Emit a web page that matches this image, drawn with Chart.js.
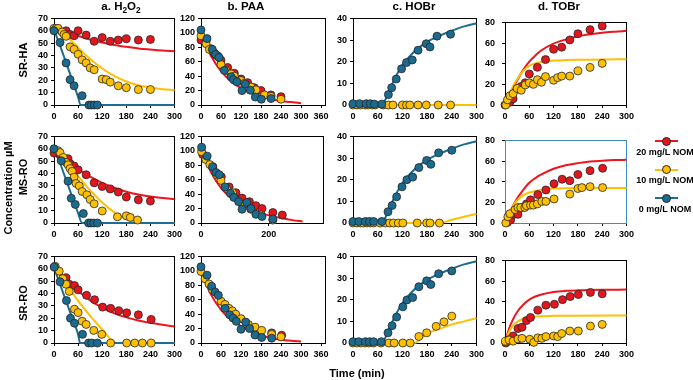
<!DOCTYPE html>
<html><head><meta charset="utf-8">
<script src="https://cdn.jsdelivr.net/npm/chart.js@4.4.1/dist/chart.umd.min.js"></script>
<style>
html,body{margin:0;padding:0;background:#fff}
body{width:693px;height:380px;position:relative;overflow:hidden;font-family:"Liberation Sans",Arial,sans-serif;font-weight:bold;color:#000}
canvas{position:absolute}
.lbl{position:absolute;white-space:nowrap;font-weight:bold;line-height:1}
.rot{transform:translate(-50%,-50%) rotate(-90deg)}
.ctr{transform:translate(-50%,-50%)}
sub{font-size:0.72em;vertical-align:-0.28em;line-height:0}
</style></head><body>
<script>
// ---------- tick labels ----------
const X300=[0,60,120,180,240,300], X360=[0,60,120,180,240,300,360], X200=[0,200];
const Y70=[0,10,20,30,40,50,60,70], Y120=[0,20,40,60,80,100,120], Y40=[0,10,20,30,40], Y80=[0,20,40,60,80];
const panelTitles=['a. H<sub>2</sub>O<sub>2</sub>','b. PAA','c. HOBr','d. TOBr'];
const rowLabels=['SR-HA','MS-RO','SR-RO'];
const yTitle='Concentration µM', xTitle='Time (min)';
const legendLabels=['20 mg/L NOM','10 mg/L NOM','0 mg/L NOM'];

// ---------- SR-HA ----------
const srha_h2o2_p20=[[0,61],[10,61.5],[30,60],[40,57],[50,56],[60,60],[80,56.5],[100,51.5],[120,54.5],[140,51.5],[160,52.5],[180,53.5],[210,52.5],[240,53]];
const srha_h2o2_m20=[[0,61],[30,58.5],[60,55.8],[90,53],[120,50.5],[150,48.5],[180,47],[210,45.7],[240,44.8],[270,44],[300,43.5]];
const srha_h2o2_p10=[[0,62],[5,62],[10,62],[20,59],[25,57],[30,55.5],[40,47],[50,45],[60,41],[70,36.5],[80,34],[90,30],[100,28.5],[120,21],[130,20.5],[140,18.5],[160,15.5],[180,14],[210,12.5],[240,12.5]];
const srha_h2o2_m10=[[0,62],[20,59.5],[40,53],[60,46.5],[80,40],[100,34.5],[120,29.5],[150,23.5],[180,19],[210,16],[240,14.2],[270,12.8],[300,12]];
const srha_h2o2_p0=[[0,60],[15,50.5],[30,34],[40,20.5],[50,15.5],[70,7.5],[87,0],[93,0],[100,0],[108,0]];
const srha_h2o2_m0=[[0,61],[15,48],[30,34.5],[45,20.5],[60,6.5],[66,0],[300,0]];

const srha_paa_p20=[[0,90],[15,88],[30,78],[40,72],[50,68],[60,62],[80,52],[100,44],[120,36],[140,31],[160,24],[180,20],[210,14],[240,11.5]];
const srha_paa_p10=[[0,96],[15,85],[25,77],[45,69],[60,56],[75,48],[90,43],[100,40],[120,34],[130,30],[150,25],[165,21],[190,14],[210,12],[240,8]];
const srha_paa_p0=[[0,104],[18,92],[34,77],[44,70],[54,66],[70,48],[90,39],[98,35],[108,32],[123,20],[133,29],[148,20.5],[163,11],[181,8],[210,9]];
const srha_paa_m20=[[0,96],[30,68],[60,47],[90,33],[120,23.5],[150,16.5],[180,11.5],[210,8],[240,5.7],[270,4],[300,2.5]];

const srha_hobr_p0=[[0,0.6],[16,0.6],[32,0.6],[42,0.6],[52,0.4],[70,0.4],[86,4.8],[94,8],[105,12],[118,16.7],[130,19.6],[144,20.8],[158,25.3],[178,28.3],[187,26.8],[204,31.8],[237,32.7]];
const srha_hobr_p10=[[0,0],[10,0],[18,0],[30,0],[37,0],[47,0],[54,0],[73,0],[86,0],[97,0],[120,0],[130,0],[138,0],[158,0],[178,0],[207,0],[237,0]];
const srha_hobr_m0=[[0,0],[70,0],[80,3],[90,7.5],[105,13.5],[120,18.5],[140,23],[160,26.5],[180,29.2],[210,32],[240,34.3],[270,36.3],[300,37.8]];
const srha_hobr_m10=[[0,0],[300,0]];

const srha_tobr_p20=[[0,0],[12,2.7],[20,6],[30,15.5],[40,18],[50,21.5],[60,30],[80,36.5],[100,44],[120,54],[140,56],[160,63],[180,69],[210,73],[240,76.5]];
const srha_tobr_m20=[[0,0],[10,8.5],[20,16.5],[30,24],[45,34],[60,42],[75,48],[90,53],[120,59.5],[150,63.5],[180,66.5],[210,68.5],[240,70],[270,71],[300,71.8]];
const srha_tobr_p10=[[2,0],[6,5],[12,9],[20,11],[30,16],[40,14.3],[50,19.4],[60,21.5],[70,20],[80,24.5],[90,22],[100,27.5],[120,24],[130,26.5],[140,28],[160,28],[180,33],[210,36.4],[240,40.3]];
const srha_tobr_m10=[[0,0],[10,10],[20,18.5],[30,25],[45,33],[60,38],[75,40.3],[90,41.6],[120,43],[150,43.5],[180,43.8],[240,44],[300,44.3]];

// ---------- MS-RO ----------
const msro_h2o2_p20=[[0,56.5],[15,55],[35,52],[40,48],[50,46],[60,43],[80,39],[100,32.5],[120,29.5],[140,27.5],[160,25],[180,21],[210,18.7],[240,17.7]];
const msro_h2o2_m20=[[0,57],[30,50],[60,43.5],[90,37.5],[120,32.5],[150,28.5],[180,25.3],[210,23],[240,21.4],[270,20.2],[300,19.3]];
const msro_h2o2_p10=[[0,59.5],[10,58.5],[15,57],[23,53],[30,49],[35,47],[40,44],[45,41.7],[50,37],[55,32],[63,30],[70,25.5],[82,22.8],[90,19],[100,15.5],[120,9.7],[158,5],[180,5.8],[190,4.5],[208,2.4]];
const msro_h2o2_m10=[[0,60],[20,54],[40,46],[60,38],[80,30],[100,23],[120,16.5],[140,11],[160,6.5],[180,3.2],[200,1],[215,0],[300,0]];
const msro_h2o2_p0=[[0,60],[18,50.3],[35,33.8],[43,20],[53,15],[73,7.6],[86,0],[92,0],[99,0],[108,0]];
const msro_h2o2_m0=[[0,61],[15,48.5],[30,35],[45,21.5],[60,8],[70,0],[300,0]];

const msro_paa_p20=[[5,95],[35,78],[60,64],[83,50],[103,42],[121,34.5],[143,29.5],[162,24],[180,20],[212,14.5],[240,11]];
const msro_paa_p10=[[2,99],[14,88],[26,81],[46,67],[59,59],[75,48],[93,42],[123,25],[147,19],[178,11],[212,4]];
const msro_paa_p0=[[2,105],[18,92.5],[34,78],[44,70],[54,67],[71,50],[87,41],[97,35.5],[111,29.5],[121,19],[135,28.5],[147,20],[162,12],[180,9],[212,5.5]];
const msro_paa_m20=[[0,101],[30,70],[60,48],[90,34],[120,25],[150,18],[180,13],[210,9.5],[240,6.6],[270,4],[300,2.2]];

const msro_hobr_p0=[[0,0.7],[14,0.7],[30,0.7],[40,0.7],[50,0.7],[70,0.7],[85,5.2],[95,8.1],[106,12.1],[119,16.7],[131,20],[145,21.2],[160,25.6],[179,28.9],[189,27.1],[208,32.4],[240,33.6]];
const msro_hobr_p10=[[0,0],[10,0],[18,0],[26,0],[34,0],[42,0],[50,0],[66,0],[79,0],[89,0],[98,0],[110,0],[121,0],[156,0],[179,0],[187,0],[210,0]];
const msro_hobr_m0=[[0,0],[70,0],[80,3],[90,7.5],[105,13.5],[120,18.5],[140,23],[160,26.5],[180,29.2],[210,32],[240,34.3],[270,36.3],[300,37.8]];
const msro_hobr_m10=[[0,0],[210,0],[240,1.5],[270,2.9],[300,4.2]];

const msro_tobr_p20=[[6,0.6],[14,3],[22,8.4],[32,8.4],[42,15],[53,18.5],[63,22.4],[81,27.5],[101,32],[121,38],[141,42.4],[160,41],[180,47],[210,50.7],[241,53]];
const msro_tobr_m20=[[0,0],[10,9],[20,17],[30,24],[45,32],[60,39],[75,43.5],[90,47],[120,52.5],[150,56],[180,58],[210,59.5],[240,60.3],[270,60.9],[300,61.2]];
const msro_tobr_p10=[[2,0],[7,6],[12,9],[25,13],[32,15],[39,15],[49,15],[53,16.7],[63,17.3],[70,17.3],[80,18.5],[91,20.9],[101,20.9],[121,23.3],[160,28],[180,33.4],[190,34.3],[210,35.2],[241,34.3]];
const msro_tobr_m10=[[0,0],[10,10],[20,17],[30,22],[45,27],[60,29.5],[75,31],[90,32.2],[120,33.3],[150,33.7],[180,33.9],[240,34],[300,34]];

// ---------- SR-RO ----------
const srro_h2o2_p20=[[1,61.5],[30,52.7],[38,47.5],[51,46.4],[60,43],[81,38.5],[101,35],[121,29],[141,28],[161,26],[181,24.4],[210,22.8],[242,19]];
const srro_h2o2_m20=[[0,61.5],[30,51],[60,42],[90,34.5],[120,28.6],[150,24],[180,20.7],[210,18.2],[240,16.3],[270,14.7],[300,13.4]];
const srro_h2o2_p10=[[3,62],[13,58],[22,52],[30,47.5],[38,41.7],[51,27.3],[60,24.6],[70,17.6],[80,15],[99,10.2],[119,7],[141,0],[181,0],[201,0],[220,0],[242,0]];
const srro_h2o2_m10=[[0,62],[30,48],[60,34],[90,22],[120,11],[150,0.5],[155,0],[300,0]];
const srro_h2o2_p0=[[1,61.4],[15,49.5],[31,34.3],[41,20],[51,16],[71,7],[86,0],[94,0],[108,0]];
const srro_h2o2_m0=[[0,61],[15,47.5],[30,34],[45,20.5],[60,7],[65,0],[300,0]];

const srro_paa_p20=[[212,14],[242,10.8]];
const srro_paa_p10=[[0,99],[12,89],[24,81.8],[34,74],[60,58],[72,53.5],[84,48],[94,44.5],[104,40],[120,33.7],[142,25.6],[162,22],[182,17.5],[212,12],[240,8.5]];
const srro_paa_p0=[[0,105.6],[18,94],[32,78.6],[42,70.6],[52,66],[72,48],[86,39],[96,34.6],[106,30],[120,19],[134,29],[146,20],[162,11],[182,7.6],[212,6.7]];
const srro_paa_m20=[[0,99],[30,67],[60,46],[90,32.5],[120,23.4],[150,16],[180,10.8],[210,7],[240,4.5],[270,3],[300,2.2]];

const srro_hobr_p0=[[0,0.6],[14,0.6],[30,0.6],[40,0.6],[50,0.6],[69,0.6],[85,4.7],[95,8],[106,12],[121,16.7],[131,19.9],[145,21],[160,26],[179,28.7],[189,27],[208,32],[240,33.3]];
const srro_hobr_p10=[[0,0],[10,0],[19,0],[29,0],[39,0],[50,0],[68,0],[87,0],[100,0],[121,0],[139,0],[160,3],[179,4.7],[202,7.7],[221,9.8],[240,12.4]];
const srro_hobr_m0=[[0,0],[70,0],[80,3],[90,7.5],[105,13.5],[120,18.5],[140,23],[160,26.5],[180,29.2],[210,32],[240,34.3],[270,36.3],[300,37.8]];
const srro_hobr_m10=[[0,0],[150,0],[165,2],[180,4.4],[210,6.5],[240,8.6],[270,10],[300,11.5]];

const srro_tobr_p20=[[2,0],[11,3.3],[20,6.8],[32,14],[42,15.2],[53,21.7],[63,24.7],[81,31.8],[101,36.6],[122,37.5],[142,42],[161,45],[181,47],[211,49],[240,47.6]];
const srro_tobr_m20=[[0,0],[10,14],[20,23],[30,30],[45,37],[60,42],[75,45],[90,47],[120,49.4],[150,50.5],[180,51],[240,51.5],[300,51.7]];
const srro_tobr_p10=[[1,1.8],[10,3],[20,1.8],[32,3.9],[42,4.5],[61,3.6],[71,0.6],[81,5],[91,4.5],[101,6.2],[120,6.8],[130,6.2],[140,9.2],[160,11.6],[181,11.6],[211,16.4],[240,18]];
const srro_tobr_m10=[[0,0],[10,11],[20,17],[30,20.5],[45,23.5],[60,25],[90,26],[120,26.3],[180,26.5],[300,26.6]];

// ---------- styling ----------
const COL={r:{fill:'#e3161d',line:'#f0141c',o:3},y:{fill:'#ffc000',line:'#ffc000',o:2},b:{fill:'#1a6b8f',line:'#1c6e93',o:1}};
const F={family:'"Liberation Sans", Arial, sans-serif',size:9,weight:'bold'};
const COLX=[[54,175],[201,325],[353,477],[505,627]];
const ROWY=[[16,105],[134,223],[254,343]];

const boxPlugin={id:'box',defaults:{color:'#000'},beforeDatasetsDraw(ch,args,o){
  const a=ch.chartArea,ctx=ch.ctx;const al=v=>Math.round(v-0.5)+0.5;
  ctx.save();ctx.strokeStyle=o.color;ctx.lineWidth=1;
  ctx.strokeRect(al(a.left),al(a.top),Math.round(a.right-a.left),Math.round(a.bottom-a.top));ctx.restore();}};

function mk(p){
  const [L,R]=p.x,[T,B]=p.y;
  const yW=28,xH=20,pl=2,pr=10,pt=6;
  const w=R-L+yW+pl+pr,h=B-T+pt+xH;
  const cv=document.createElement('canvas');
  cv.width=w;cv.height=h;
  cv.style.left=(L-yW-pl)+'px';cv.style.top=(T-pt)+'px';cv.style.width=w+'px';cv.style.height=h+'px';
  document.body.appendChild(cv);
  const ds=[];
  p.s.forEach(s=>{
    const c=COL[s.c];
    if(s.m)ds.push({data:s.m.map(([x,y])=>({x,y})),showLine:true,pointRadius:0,borderColor:c.line,borderWidth:2,cubicInterpolationMode:'monotone',order:10+c.o,clip:false});
    if(s.p)ds.push({data:s.p.map(([x,y])=>({x,y})),showLine:false,pointRadius:4,pointHoverRadius:4,backgroundColor:c.fill,borderColor:'#262626',pointBackgroundColor:c.fill,pointBorderColor:'#262626',pointBorderWidth:0.8,order:c.o,clip:false});
  });
  const grid={drawOnChartArea:false,drawTicks:true,tickLength:3,tickColor:'#000',color:'#000'};
  new Chart(cv,{type:'scatter',data:{datasets:ds},options:{responsive:false,animation:false,devicePixelRatio:1,
    layout:{padding:{left:pl,right:pr,top:pt,bottom:0}},
    plugins:{legend:{display:false},tooltip:{enabled:false},box:{color:p.bc||'#000'}},
    scales:{
      x:{type:'linear',min:0,max:p.xmax,afterBuildTicks:s=>{s.ticks=p.xt.map(v=>({value:v}));},afterFit:s=>{s.height=xH;},
        ticks:{font:F,color:'#000',padding:3,maxRotation:0,autoSkip:false},grid:grid,border:{display:false}},
      y:{type:'linear',min:0,max:p.ymax,afterBuildTicks:s=>{s.ticks=p.yt.map(v=>({value:v}));},afterFit:s=>{s.width=yW;},
        ticks:{font:F,color:'#000',padding:p.yp||3,autoSkip:false},grid:grid,border:{display:false}}}},
    plugins:[boxPlugin]});
}

const panels=[
 {x:COLX[0],y:ROWY[0],xmax:300,xt:X300,ymax:70,yt:Y70,s:[{c:'r',p:srha_h2o2_p20,m:srha_h2o2_m20},{c:'y',p:srha_h2o2_p10,m:srha_h2o2_m10},{c:'b',p:srha_h2o2_p0,m:srha_h2o2_m0}]},
 {x:COLX[1],y:ROWY[0],xmax:372,xt:X360,ymax:120,yt:Y120,s:[{c:'r',p:srha_paa_p20,m:srha_paa_m20},{c:'y',p:srha_paa_p10},{c:'b',p:srha_paa_p0}]},
 {x:COLX[2],y:ROWY[0],xmax:300,xt:X300,ymax:40,yt:Y40,s:[{c:'y',p:srha_hobr_p10,m:srha_hobr_m10},{c:'b',p:srha_hobr_p0,m:srha_hobr_m0}]},
 {x:COLX[3],y:ROWY[0],xmax:300,xt:X300,ymax:80,yt:Y80,yp:7,s:[{c:'r',p:srha_tobr_p20,m:srha_tobr_m20},{c:'y',p:srha_tobr_p10,m:srha_tobr_m10}]},

 {x:COLX[0],y:ROWY[1],xmax:300,xt:X300,ymax:70,yt:Y70,s:[{c:'r',p:msro_h2o2_p20,m:msro_h2o2_m20},{c:'y',p:msro_h2o2_p10,m:msro_h2o2_m10},{c:'b',p:msro_h2o2_p0,m:msro_h2o2_m0}]},
 {x:[COLX[1][0],323],y:ROWY[1],xmax:360,xt:X200,ymax:120,yt:Y120,s:[{c:'r',p:msro_paa_p20,m:msro_paa_m20},{c:'y',p:msro_paa_p10},{c:'b',p:msro_paa_p0}]},
 {x:COLX[2],y:ROWY[1],xmax:300,xt:X300,ymax:40,yt:Y40,s:[{c:'y',p:msro_hobr_p10,m:msro_hobr_m10},{c:'b',p:msro_hobr_p0,m:msro_hobr_m0}]},
 {x:COLX[3],y:ROWY[1],xmax:300,xt:X300,ymax:80,yt:Y80,yp:7,bc:'#3b8dbd',s:[{c:'r',p:msro_tobr_p20,m:msro_tobr_m20},{c:'y',p:msro_tobr_p10,m:msro_tobr_m10}]},

 {x:COLX[0],y:ROWY[2],xmax:300,xt:X300,ymax:70,yt:Y70,s:[{c:'r',p:srro_h2o2_p20,m:srro_h2o2_m20},{c:'y',p:srro_h2o2_p10,m:srro_h2o2_m10},{c:'b',p:srro_h2o2_p0,m:srro_h2o2_m0}]},
 {x:COLX[1],y:ROWY[2],xmax:372,xt:X360,ymax:120,yt:Y120,s:[{c:'r',p:srro_paa_p20,m:srro_paa_m20},{c:'y',p:srro_paa_p10},{c:'b',p:srro_paa_p0}]},
 {x:COLX[2],y:ROWY[2],xmax:300,xt:X300,ymax:40,yt:Y40,s:[{c:'y',p:srro_hobr_p10,m:srro_hobr_m10},{c:'b',p:srro_hobr_p0,m:srro_hobr_m0}]},
 {x:COLX[3],y:ROWY[2],xmax:300,xt:X300,ymax:80,yt:Y80,yp:7,s:[{c:'r',p:srro_tobr_p20,m:srro_tobr_m20},{c:'y',p:srro_tobr_p10,m:srro_tobr_m10}]}
];
panels.forEach(mk);

// ---------- text ----------
function txt(html,x,y,size,cls){const d=document.createElement('div');d.className='lbl '+cls;d.innerHTML=html;d.style.left=x+'px';d.style.top=y+'px';d.style.fontSize=size+'px';document.body.appendChild(d);return d;}
const titleX=[121,246,414,559];
panelTitles.forEach((t,i)=>txt(t,titleX[i],7,11.5,'ctr'));
const rowY=[60,177,303];
rowLabels.forEach((t,i)=>txt(t,23,rowY[i],11,'rot'));
txt(yTitle,8,188,11,'rot');
txt(xTitle,357,373,11,'ctr');

// legend
const legKeys=['r','y','b'];
legendLabels.forEach((t,i)=>{
  const cy=141+i*28.5;const c=COL[legKeys[i]];
  const ln=document.createElement('div');ln.style.cssText=`position:absolute;left:655px;width:23px;top:${cy-1}px;height:2px;background:${c.line}`;document.body.appendChild(ln);
  const dot=document.createElement('div');dot.style.cssText=`position:absolute;left:${666.5-4.5}px;top:${cy-4.5}px;width:9px;height:9px;border-radius:50%;box-sizing:border-box;border:1px solid #262626;background:${c.fill}`;document.body.appendChild(dot);
  txt(t,665,cy+10.5,9,'ctr');
});
</script>
</body></html>
